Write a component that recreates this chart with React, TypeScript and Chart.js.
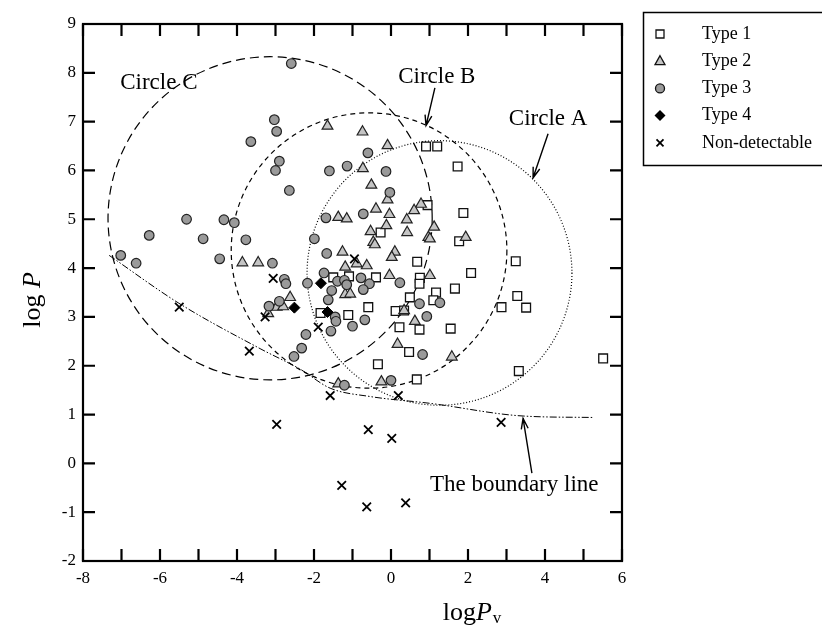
import React, { useEffect, useRef } from 'react';
import { Chart, registerables } from 'chart.js';

Chart.register(...registerables);

const FONT = "'Liberation Serif', 'Times New Roman', serif";

// ---- axes ----
const X_MIN = -8;
const X_MAX = 6;
const Y_MIN = -2;
const Y_MAX = 9;
const X_TICK_LABELS = [-8, -6, -4, -2, 0, 2, 4, 6];

// ---- series ----
const SERIES_NAMES = ['Type 1', 'Type 2', 'Type 3', 'Type 4', 'Non-detectable'];

const T1_X = [0.91, 1.2, 1.73, 0.95, 1.88, -0.27, 0.68, -1.5, -1.09, -0.39, 0.75, 0.74, -1.83, -1.11, -0.59, 0.49, 0.12, 0.34, 0.22, 0.74, 0.47, -0.34, 0.67, 1.77, 3.24, 2.08, 1.66, 1.17, 1.1, 3.28, 2.87, 3.51, 1.55, 3.32, 5.51];
const T1_Y = [6.49, 6.49, 6.08, 5.29, 5.13, 4.73, 4.13, 3.81, 3.83, 3.81, 3.8, 3.68, 3.08, 3.04, 3.2, 3.4, 3.12, 3.13, 2.79, 2.74, 2.28, 2.03, 1.72, 4.55, 4.14, 3.9, 3.58, 3.5, 3.34, 3.43, 3.2, 3.19, 2.76, 1.89, 2.15];

const T2_X = [-1.65, -0.74, -0.09, -0.73, -0.51, -0.09, 0.78, -1.37, -1.15, -0.39, -0.04, 0.41, 0.6, -0.12, -0.53, 0.42, 0.97, -0.46, -0.42, -1.26, 0.1, 0.02, -3.86, -3.45, -0.89, -0.63, -1.19, -0.04, -1.19, -1.06, -2.62, -2.97, -2.8, -3.19, 0.34, 0.62, 0.17, -0.25, -1.37, 1.12, 1.01, 1.94, 1.01, 1.58];
const T2_Y = [6.91, 6.79, 6.51, 6.04, 5.7, 5.4, 5.31, 5.04, 5.01, 5.21, 5.1, 4.99, 5.18, 4.87, 4.75, 4.73, 4.63, 4.53, 4.48, 4.33, 4.33, 4.22, 4.11, 4.11, 4.09, 4.05, 4.02, 3.85, 3.46, 3.47, 3.4, 3.2, 3.21, 3.07, 3.13, 2.91, 2.44, 1.67, 1.63, 4.84, 4.6, 4.63, 3.85, 2.18];

const T3_X = [-2.59, -3.03, -2.97, -3.64, -0.6, -2.9, -3.0, -1.6, -1.14, -0.13, -0.03, -2.64, -1.69, -0.72, -5.31, -4.34, -4.07, -6.28, -4.88, -3.77, -7.02, -6.62, -4.45, -1.99, -1.67, -3.08, -2.77, -2.73, -2.17, -1.74, -1.39, -1.21, -1.15, -0.78, -0.56, 0.23, -1.54, -0.72, -2.9, -3.17, -1.63, -1.45, -1.43, -0.68, -1.0, -1.56, -2.21, -2.32, -2.52, 0.74, 0.93, 0.82, 0.0, -1.21, 1.27];
const T3_Y = [8.19, 7.04, 6.8, 6.59, 6.36, 6.19, 6.0, 5.99, 6.09, 5.98, 5.55, 5.59, 5.03, 5.11, 5.0, 4.99, 4.93, 4.67, 4.6, 4.58, 4.26, 4.1, 4.19, 4.6, 4.3, 4.1, 3.77, 3.68, 3.69, 3.9, 3.73, 3.75, 3.66, 3.8, 3.68, 3.7, 3.54, 3.56, 3.32, 3.22, 3.35, 3.0, 2.91, 2.94, 2.81, 2.71, 2.64, 2.36, 2.19, 3.27, 3.01, 2.23, 1.7, 1.6, 3.29];

const T4_X = [-1.82, -2.51, -1.65];
const T4_Y = [3.69, 3.19, 3.1];

const ND_X = [-5.5, -3.68, -3.06, -3.27, -0.95, -1.89, -1.58, 0.19, -2.97, -1.28, -0.59, 0.02, -0.63, 0.38, 2.86];
const ND_Y = [3.2, 2.3, 3.79, 3.0, 4.19, 2.79, 1.39, 1.39, 0.8, -0.45, 0.69, 0.51, -0.89, -0.81, 0.84];

// boundary line
const BOUND_X = [-7.32, -5.51, -3.4, -2.36, -1.58, -0.55, 1.01, 3.43, 5.25];
const BOUND_Y = [4.26, 3.28, 2.35, 1.93, 1.54, 1.37, 1.23, 0.97, 0.94];

// circles: centres and radii in data units
const CIRCLE_NAMES = ['Circle A', 'Circle B', 'Circle C'];
const CIRCLE_CX = [1.26, -0.57, -3.14];
const CIRCLE_CY = [3.9, 4.36, 5.02];
const CIRCLE_RX = [3.44, 3.58, 4.21];
const CIRCLE_RY = [2.71, 2.82, 3.31];
const CIRCLE_DASH = [[1, 2], [5, 4], [9, 5]];

// text annotations (positions in data units)
const LABELS = [
  { text: 'Circle C', x: -6.03, y: 7.8, align: 'center' },
  { text: 'Circle B', x: 1.19, y: 7.92, align: 'center' },
  { text: 'Circle A', x: 4.08, y: 7.06, align: 'center' },
  { text: 'The boundary line', x: 1.01, y: -0.45, align: 'left' },
];
const ARROWS = [
  { x1: 1.14, y1: 7.69, x2: 0.91, y2: 6.92 },
  { x1: 4.08, y1: 6.75, x2: 3.69, y2: 5.85 },
  { x1: 3.66, y1: -0.2, x2: 3.43, y2: 0.92 },
];

const pts = (xs: number[], ys: number[]) => xs.map((x, i) => ({ x, y: ys[i] }));

function drawLegendMarker(ctx: CanvasRenderingContext2D, kind: number, x: number, y: number) {
  ctx.save();
  ctx.lineWidth = 1.3;
  ctx.strokeStyle = '#111';
  ctx.beginPath();
  if (kind === 0) {
    ctx.fillStyle = '#fff';
    ctx.rect(x - 4, y - 4, 8, 8);
    ctx.fill();
    ctx.stroke();
  } else if (kind === 1) {
    ctx.fillStyle = '#c4c4c4';
    ctx.moveTo(x, y - 5.5);
    ctx.lineTo(x + 5, y + 3.5);
    ctx.lineTo(x - 5, y + 3.5);
    ctx.closePath();
    ctx.fill();
    ctx.stroke();
  } else if (kind === 2) {
    ctx.fillStyle = '#9a9a9a';
    ctx.arc(x, y, 4.5, 0, Math.PI * 2);
    ctx.fill();
    ctx.stroke();
  } else if (kind === 3) {
    ctx.fillStyle = '#000';
    ctx.moveTo(x, y - 5.5);
    ctx.lineTo(x + 5.5, y);
    ctx.lineTo(x, y + 5.5);
    ctx.lineTo(x - 5.5, y);
    ctx.closePath();
    ctx.fill();
  } else {
    ctx.lineWidth = 1.8;
    ctx.strokeStyle = '#000';
    ctx.moveTo(x - 3.5, y - 3.5);
    ctx.lineTo(x + 3.5, y + 3.5);
    ctx.moveTo(x + 3.5, y - 3.5);
    ctx.lineTo(x - 3.5, y + 3.5);
    ctx.stroke();
  }
  ctx.restore();
}

const decorPlugin = {
  id: 'decor',
  beforeDatasetsDraw(chart: any) {
    const { ctx, chartArea: a, scales } = chart;
    const xs = scales.x;
    const ys = scales.y;
    ctx.save();
    ctx.beginPath();
    ctx.rect(a.left, a.top, a.right - a.left, a.bottom - a.top);
    ctx.clip();
    ctx.strokeStyle = '#000';
    ctx.lineWidth = 1.2;
    for (let i = 0; i < CIRCLE_NAMES.length; i++) {
      const cx = xs.getPixelForValue(CIRCLE_CX[i]);
      const cy = ys.getPixelForValue(CIRCLE_CY[i]);
      const rx = Math.abs(xs.getPixelForValue(CIRCLE_CX[i] + CIRCLE_RX[i]) - cx);
      const ry = Math.abs(ys.getPixelForValue(CIRCLE_CY[i] + CIRCLE_RY[i]) - cy);
      ctx.setLineDash(CIRCLE_DASH[i]);
      ctx.beginPath();
      ctx.ellipse(cx, cy, rx, ry, 0, 0, Math.PI * 2);
      ctx.stroke();
    }
    ctx.restore();
  },
  afterDraw(chart: any) {
    const { ctx, chartArea: a, scales } = chart;
    const xs = scales.x;
    const ys = scales.y;
    ctx.save();
    // frame
    ctx.strokeStyle = '#000';
    ctx.lineWidth = 2.2;
    ctx.setLineDash([]);
    ctx.strokeRect(a.left, a.top, a.right - a.left, a.bottom - a.top);
    // inward ticks on all four sides
    const TL = 12;
    ctx.lineWidth = 2.2;
    ctx.beginPath();
    xs.ticks.forEach((t: any) => {
      const px = xs.getPixelForValue(t.value);
      ctx.moveTo(px, a.bottom);
      ctx.lineTo(px, a.bottom - TL);
      ctx.moveTo(px, a.top);
      ctx.lineTo(px, a.top + TL);
    });
    ys.ticks.forEach((t: any) => {
      const py = ys.getPixelForValue(t.value);
      ctx.moveTo(a.left, py);
      ctx.lineTo(a.left + TL, py);
      ctx.moveTo(a.right, py);
      ctx.lineTo(a.right - TL, py);
    });
    ctx.stroke();

    // annotation labels
    ctx.fillStyle = '#000';
    ctx.font = `23px ${FONT}`;
    ctx.textBaseline = 'middle';
    LABELS.forEach((l) => {
      ctx.textAlign = l.align as CanvasTextAlign;
      ctx.fillText(l.text, xs.getPixelForValue(l.x), ys.getPixelForValue(l.y));
    });
    // arrows
    ctx.lineWidth = 1.4;
    ARROWS.forEach((ar) => {
      const x1 = xs.getPixelForValue(ar.x1);
      const y1 = ys.getPixelForValue(ar.y1);
      const x2 = xs.getPixelForValue(ar.x2);
      const y2 = ys.getPixelForValue(ar.y2);
      const ang = Math.atan2(y2 - y1, x2 - x1);
      const hl = 11;
      const hw = 0.32;
      ctx.beginPath();
      ctx.moveTo(x1, y1);
      ctx.lineTo(x2, y2);
      ctx.moveTo(x2 - hl * Math.cos(ang - hw), y2 - hl * Math.sin(ang - hw));
      ctx.lineTo(x2, y2);
      ctx.lineTo(x2 - hl * Math.cos(ang + hw), y2 - hl * Math.sin(ang + hw));
      ctx.stroke();
    });

    // axis titles
    ctx.textAlign = 'left';
    ctx.textBaseline = 'alphabetic';
    const big = 26;
    ctx.font = `${big}px ${FONT}`;
    const wLog = ctx.measureText('log').width;
    ctx.font = `italic ${big}px ${FONT}`;
    const wP = ctx.measureText('P').width;
    ctx.font = `17px ${FONT}`;
    const wV = ctx.measureText('v').width;
    const total = wLog + wP + wV + 1;
    let sx = 472 - total / 2;
    const by = 620;
    ctx.font = `${big}px ${FONT}`;
    ctx.fillText('log', sx, by);
    sx += wLog;
    ctx.font = `italic ${big}px ${FONT}`;
    ctx.fillText('P', sx, by);
    sx += wP + 1;
    ctx.font = `17px ${FONT}`;
    ctx.fillText('v', sx, by + 3);

    // y title
    ctx.save();
    ctx.translate(40, 300);
    ctx.rotate(-Math.PI / 2);
    ctx.font = `${big}px ${FONT}`;
    const wLog2 = ctx.measureText('log ').width;
    ctx.font = `italic ${big}px ${FONT}`;
    const wP2 = ctx.measureText('P').width;
    let tx = -(wLog2 + wP2) / 2;
    ctx.font = `${big}px ${FONT}`;
    ctx.fillText('log ', tx, 0);
    tx += wLog2;
    ctx.font = `italic ${big}px ${FONT}`;
    ctx.fillText('P', tx, 0);
    ctx.restore();

    // legend box
    ctx.fillStyle = '#fff';
    ctx.fillRect(643, 12, 200, 153);
    ctx.strokeStyle = '#000';
    ctx.lineWidth = 1.5;
    ctx.strokeRect(643.5, 12.5, 200, 153);
    ctx.fillStyle = '#000';
    ctx.font = `18px ${FONT}`;
    ctx.textBaseline = 'middle';
    ctx.textAlign = 'left';
    SERIES_NAMES.forEach((name, i) => {
      const yy = 34 + i * 27.2;
      drawLegendMarker(ctx, i, 660, yy);
      ctx.fillStyle = '#000';
      ctx.fillText(name, 702, yy);
    });
    ctx.restore();
  },
};

export default function App() {
  const ref = useRef<HTMLCanvasElement | null>(null);
  useEffect(() => {
    if (!ref.current) return;
    const chart = new Chart(ref.current, {
      type: 'scatter',
      data: {
        datasets: [
          {
            label: SERIES_NAMES[4],
            data: pts(ND_X, ND_Y),
            pointStyle: 'crossRot',
            pointRadius: 6,
            borderColor: '#000',
            borderWidth: 1.8,
          },
          {
            label: SERIES_NAMES[3],
            data: pts(T4_X, T4_Y),
            pointStyle: 'rectRot',
            pointRadius: 5.5,
            backgroundColor: '#000',
            borderColor: '#000',
            borderWidth: 1,
          },
          {
            label: SERIES_NAMES[2],
            data: pts(T3_X, T3_Y),
            pointStyle: 'circle',
            pointRadius: 4.8,
            backgroundColor: '#9a9a9a',
            borderColor: '#222',
            borderWidth: 1.2,
          },
          {
            label: SERIES_NAMES[1],
            data: pts(T2_X, T2_Y),
            pointStyle: 'triangle',
            pointRadius: 6.2,
            backgroundColor: '#c4c4c4',
            borderColor: '#222',
            borderWidth: 1.2,
          },
          {
            label: SERIES_NAMES[0],
            data: pts(T1_X, T1_Y),
            pointStyle: 'rect',
            pointRadius: 6.2,
            backgroundColor: '#fff',
            borderColor: '#111',
            borderWidth: 1.3,
          },
          {
            label: 'The boundary line',
            data: pts(BOUND_X, BOUND_Y),
            showLine: true,
            pointRadius: 0,
            borderColor: '#000',
            borderWidth: 1,
            borderDash: [7, 2, 1.5, 2, 1.5, 2],
            cubicInterpolationMode: 'monotone',
            fill: false,
          } as any,
        ],
      },
      options: {
        responsive: false,
        animation: false,
        devicePixelRatio: 1,
        layout: { padding: { top: 24, right: 200, bottom: 0, left: 0 } },
        plugins: {
          legend: { display: false },
          tooltip: { enabled: false },
        },
        scales: {
          x: {
            type: 'linear',
            min: X_MIN,
            max: X_MAX,
            grid: { display: false, drawTicks: false },
            border: { display: false },
            ticks: {
              stepSize: 1,
              autoSkip: false,
              maxRotation: 0,
              padding: 7,
              color: '#000',
              font: { family: FONT, size: 17 },
              callback: (v: any) => (X_TICK_LABELS.includes(Number(v)) ? String(v) : ''),
            },
            afterFit: (s: any) => {
              s.height = 78;
            },
          },
          y: {
            type: 'linear',
            min: Y_MIN,
            max: Y_MAX,
            grid: { display: false, drawTicks: false },
            border: { display: false },
            ticks: {
              stepSize: 1,
              autoSkip: false,
              padding: 7,
              color: '#000',
              font: { family: FONT, size: 17 },
            },
            afterFit: (s: any) => {
              s.width = 83;
            },
          },
        },
      },
      plugins: [decorPlugin],
    } as any);
    return () => chart.destroy();
  }, []);
  return (
    <div style={{ position: 'absolute', left: 0, top: 0, width: 822, height: 639, background: '#fff' }}>
      <canvas ref={ref} width={822} height={639} style={{ width: 822, height: 639, display: 'block' }} />
    </div>
  );
}
